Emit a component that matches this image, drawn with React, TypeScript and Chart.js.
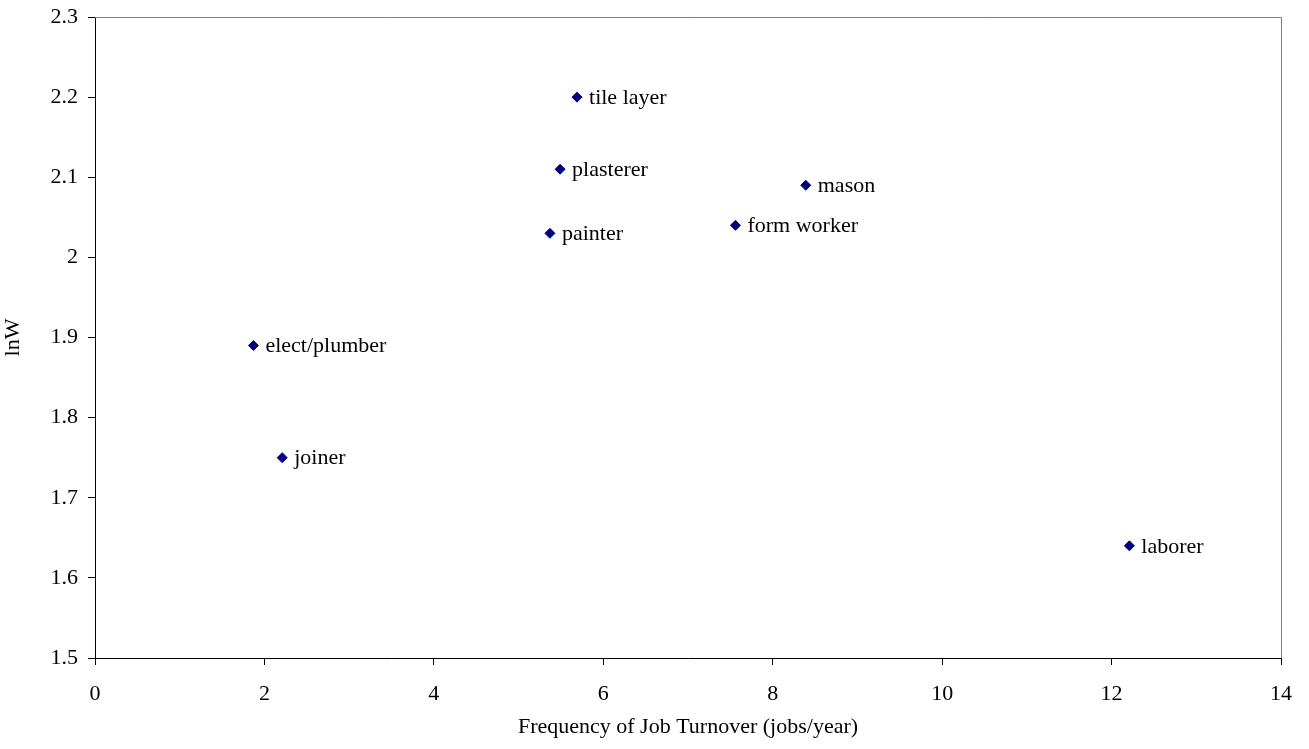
import React, { useEffect, useRef } from "react";
import { Chart, registerables } from "chart.js";

Chart.register(...registerables);

const occupations = ["tile layer", "plasterer", "painter", "mason", "form worker", "elect/plumber", "joiner", "laborer"];
const turnover = [5.69, 5.49, 5.37, 8.39, 7.56, 1.87, 2.21, 12.21];
const lnW = [2.2, 2.11, 2.03, 2.09, 2.04, 1.89, 1.75, 1.64];
const xTicks = [0, 2, 4, 6, 8, 10, 12, 14];
const yTicks = [1.5, 1.6, 1.7, 1.8, 1.9, 2, 2.1, 2.2, 2.3];

const FONT = "'Liberation Serif', 'Times New Roman', serif";

const labelPlugin = {
  id: "pointLabels",
  afterDatasetsDraw(chart: any) {
    const ctx = chart.ctx;
    const meta = chart.getDatasetMeta(0);
    ctx.save();
    ctx.font = `22px ${FONT}`;
    ctx.fillStyle = "#000000";
    ctx.textAlign = "left";
    ctx.textBaseline = "middle";
    meta.data.forEach((pt: any, i: number) => {
      ctx.fillText(occupations[i], pt.x + 12, pt.y + 1);
    });
    ctx.restore();
  },
};

const borderPlugin = {
  id: "frame",
  afterDraw(chart: any) {
    const { ctx, chartArea } = chart;
    ctx.save();
    ctx.strokeStyle = "#808080";
    ctx.lineWidth = 1;
    ctx.beginPath();
    ctx.moveTo(chartArea.left, chartArea.top + 0.5);
    ctx.lineTo(chartArea.right + 0.5, chartArea.top + 0.5);
    ctx.lineTo(chartArea.right + 0.5, chartArea.bottom);
    ctx.stroke();
    ctx.restore();
  },
};

export default function App() {
  const ref = useRef<HTMLCanvasElement | null>(null);
  useEffect(() => {
    if (!ref.current) return;
    const chart = new Chart(ref.current, {
      type: "scatter",
      data: {
        datasets: [
          {
            data: turnover.map((x, i) => ({ x, y: lnW[i] })),
            pointStyle: "rectRot",
            radius: 5,
            backgroundColor: "#000080",
            borderColor: "#000080",
            borderWidth: 1,
          },
        ],
      },
      options: {
        animation: false,
        responsive: false,
        layout: { padding: { top: 17, right: 28, left: 0, bottom: 0 } },
        plugins: { legend: { display: false }, tooltip: { enabled: false } },
        scales: {
          x: {
            type: "linear",
            min: 0,
            max: 14,
            afterBuildTicks: (axis: any) => {
              axis.ticks = xTicks.map((v) => ({ value: v }));
            },
            afterFit: (axis: any) => {
              axis.height = 749 - 658;
              axis.paddingRight = 0;
              axis.paddingLeft = 0;
            },
            grid: { drawOnChartArea: false, tickLength: 7, color: "#000000" },
            border: { color: "#000000", width: 1 },
            ticks: {
              color: "#000000",
              font: { family: FONT, size: 22 },
              padding: 16,
              maxRotation: 0,
              callback: (v: any) => String(v),
            },
            title: {
              display: true,
              text: "Frequency of Job Turnover (jobs/year)",
              color: "#000000",
              font: { family: FONT, size: 22 },
              padding: { top: 8, bottom: 9 },
            },
          },
          y: {
            type: "linear",
            min: 1.5,
            max: 2.3,
            afterBuildTicks: (axis: any) => {
              axis.ticks = yTicks.map((v) => ({ value: v }));
            },
            afterFit: (axis: any) => {
              axis.width = 95;
              axis.paddingTop = 0;
              axis.paddingBottom = 0;
            },
            grid: { drawOnChartArea: false, tickLength: 7, color: "#000000" },
            border: { color: "#000000", width: 1 },
            ticks: {
              color: "#000000",
              font: { family: FONT, size: 22 },
              padding: 10,
              callback: (v: any) => String(Math.round(v * 10) / 10),
            },
            title: {
              display: true,
              text: "lnW",
              color: "#000000",
              font: { family: FONT, size: 22 },
              padding: { top: 0, bottom: 0 },
            },
          },
        },
      },
      plugins: [labelPlugin, borderPlugin],
    });
    return () => chart.destroy();
  }, []);
  return (
    <div style={{ position: "absolute", left: 0, top: 0, width: 1309, height: 749, background: "#fff" }}>
      <canvas ref={ref} width={1309} height={749} style={{ display: "block" }} />
    </div>
  );
}
